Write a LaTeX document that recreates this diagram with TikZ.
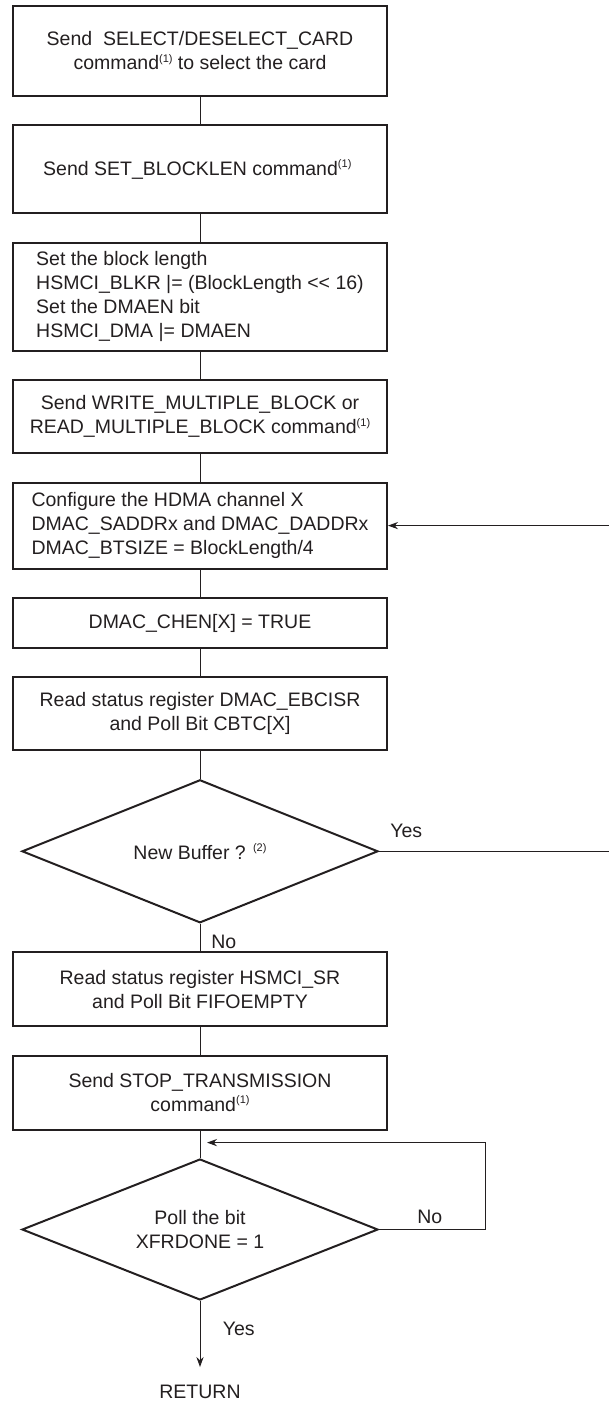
\documentclass[tikz,border=0pt]{standalone}
\usepackage{fontspec}
\setmainfont{Liberation Sans}
\usetikzlibrary{arrows.meta,positioning,shapes.geometric,calc}
\definecolor{FlowInk}{HTML}{231F20}
\newcommand{\refmark}[1]{\raisebox{0.75ex}{\fontsize{5.5pt}{6pt}\selectfont(#1)}}

\begin{document}
\begin{tikzpicture}[
        font=\fontsize{9.75pt}{12pt}\selectfont,
        node distance=13.7pt,
        box/.style={
                draw=FlowInk,
                line width=1pt,
                text=FlowInk,
                minimum width=187pt,
                inner sep=0pt,
                align=center
            },
        leftbox/.style={box, align=left},
        decision/.style={diamond, aspect=2.49, draw=FlowInk, line width=1pt, text=FlowInk,
                minimum width=178pt, minimum height=71.5pt, inner sep=0pt, align=center},
        tag/.style={text=FlowInk, inner sep=0pt, anchor=base west},
        link/.style={draw=FlowInk, line width=0.5pt},
        arrow/.style={link, -{Stealth[length=5pt,width=3.6pt]}},
    ]
    \useasboundingbox (0,0) rectangle (304.5pt,-701pt);

    \node[box, minimum height=45pt] (select) at (100pt,-25.5pt) {
        Send\ \ SELECT/DESELECT\_CARD\\
        command\refmark{1} to select the card
    };

    \node[box, minimum height=44pt, below=of select] (blocklen) {
        Send SET\_BLOCKLEN command\refmark{1}
    };

    \node[leftbox, minimum height=54pt, below=of blocklen] (setlen) {
        Set the block length\\
        HSMCI\_BLKR |= (BlockLength <{}< 16)\\
        Set the DMAEN bit\\
        HSMCI\_DMA |= DMAEN
    };

    \node[box, minimum height=36.5pt, below=of setlen] (multi) {
        Send WRITE\_MULTIPLE\_BLOCK or\\
        READ\_MULTIPLE\_BLOCK command\refmark{1}
    };

    \node[leftbox, minimum height=43pt, below=of multi] (config) {
        Configure the HDMA channel X\\
        DMAC\_SADDRx and DMAC\_DADDRx\\
        DMAC\_BTSIZE = BlockLength/4
    };

    \node[box, minimum height=25pt, below=of config] (chen) {DMAC\_CHEN[X] = TRUE};

    \node[box, minimum height=36.5pt, below=of chen] (ebcisr) {
        Read status register DMAC\_EBCISR\\
        and Poll Bit CBTC[X]
    };

    \node[decision, below=of ebcisr] (newbuf) {New Buffer ? \refmark{2}};

    \node[box, minimum height=37pt, below=of newbuf] (fifo) {
        Read status register HSMCI\_SR\\
        and Poll Bit FIFOEMPTY
    };

    \node[box, minimum height=37pt, below=of fifo] (stop) {
        Send STOP\_TRANSMISSION\\
        command\refmark{1}
    };

    \node[decision, minimum height=70.5pt, below=of stop] (xfrdone) {
        Poll the bit\\
        XFRDONE = 1
    };

    \node[inner sep=0pt, text=FlowInk, below=42pt of xfrdone] (ret) {RETURN};

    % branch labels
    \node[tag] (yesbuf) at ([xshift=5.5pt,yshift=6.7pt]newbuf.east) {Yes};
    \node[tag] (nobuf) at ([xshift=5.5pt,yshift=-12.4pt]newbuf.south) {No};
    \node[tag] (nodone) at ([xshift=19pt,yshift=3pt]xfrdone.east) {No};
    \node[tag] (yesdone) at ([xshift=11.2pt,yshift=-17.4pt]xfrdone.south) {Yes};

    \draw[link] (select) -- (blocklen);
    \draw[link] (blocklen) -- (setlen);
    \draw[link] (setlen) -- (multi);
    \draw[link] (multi) -- (config);
    \draw[link] (config) -- (chen);
    \draw[link] (chen) -- (ebcisr);
    \draw[link] (ebcisr) -- (newbuf);
    \draw[link] (newbuf) -- (fifo);
    \draw[link] (fifo) -- (stop);
    \draw[link] (stop) -- (xfrdone);

    % the return path runs past the right edge of the page
    \coordinate (offpage) at (307.5pt,0);
    \draw[arrow] (newbuf.east) -- (newbuf.east -| offpage) |- (config.east);

    \coordinate (join) at ([yshift=-6pt]stop.south);
    \coordinate (loopR) at ([xshift=53pt]xfrdone.east);
    \draw[arrow] (xfrdone.east) -- (loopR) |- ([xshift=3.5pt]join);

    \draw[arrow, shorten >=9pt] (xfrdone) -- (ret);

\end{tikzpicture}
\end{document}
